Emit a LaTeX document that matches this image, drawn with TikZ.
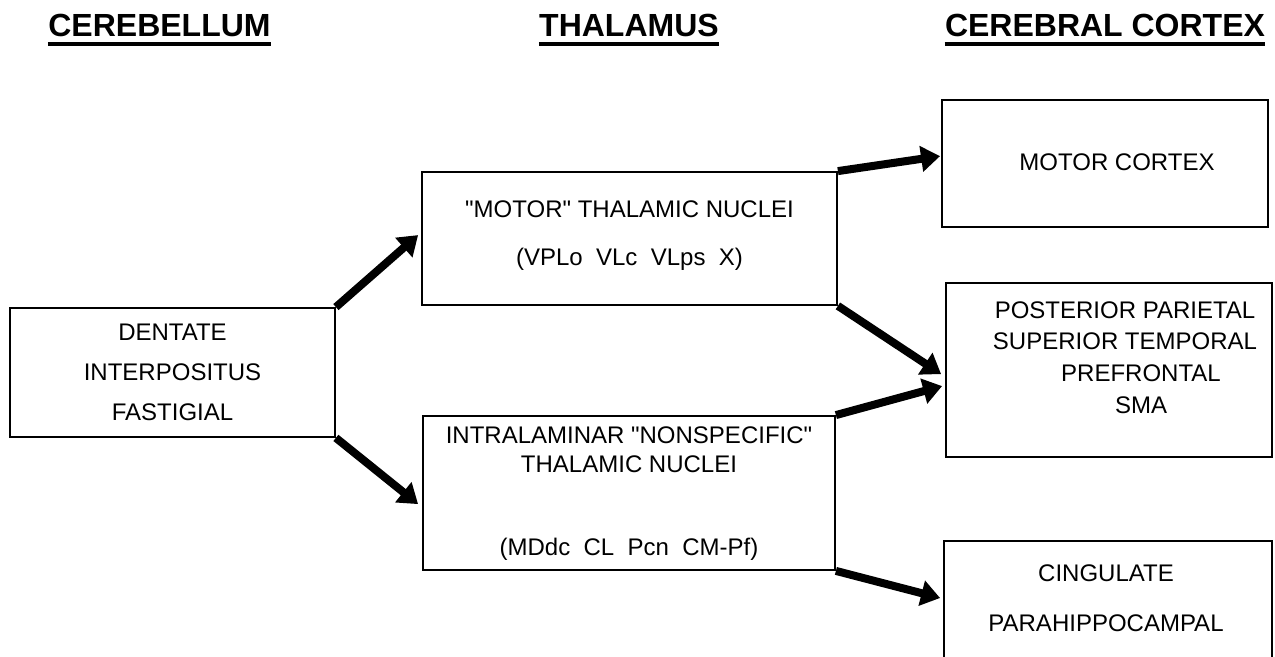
\documentclass[tikz,border=0pt]{standalone}
\usepackage{fontspec}
\setmainfont{Liberation Sans}
\usepackage{tikz}
\usetikzlibrary{arrows.meta,calc}
\tikzset{region/.style={
  % The shape:
  rectangle,
  % The border:
  draw=black, line width=0.9pt,
  % The frame holds no text:
  inner sep=0pt,
  }
}
\tikzset{nuclei/.style={
  % Text:
  align=center, inner sep=0pt,
  % Font, with the line distance as value:
  font=\fontsize{12}{#1}\selectfont,
  },
  nuclei/.default=14.5
}
\tikzset{heading/.style={
  font=\bfseries\fontsize{16}{19}\selectfont,
  inner sep=0pt, anchor=base,
  }
}
\newcommand{\qq}[1]{\textquotedbl#1\textquotedbl}

\begin{document}
\begin{tikzpicture}[x=0.5pt,y=-0.5pt,
    projection/.style={line width=4pt,-{Triangle[length=9.5pt,width=12.5pt]}},
    underline/.style={line width=1.6pt}]
  \useasboundingbox (0,0) rectangle (1275,657);
  \clip (0,0) rectangle (1275,657);

  % Headings:
  \node (hcb) [heading] at (159.5,37) {CEREBELLUM};
  \node (hth) [heading] at (629,37)   {THALAMUS};
  \node (hcc) [heading] at (1105,37)  {CEREBRAL CORTEX};
  \foreach \h in {hcb,hth,hcc}
    \draw[underline] ([yshift=-3.5pt]\h.base west) -- ([yshift=-3.5pt]\h.base east);

  % Frames:
  \node (cb) [region,minimum width=162.5pt,minimum height=64.5pt] at (172.5,372.5) {};
  \node (mt) [region,minimum width=207.5pt,minimum height=66.5pt] at (629.5,238.5) {};
  \node (it) [region,minimum width=206pt,minimum height=77pt]     at (629,493)     {};
  \node (mc) [region,minimum width=163pt,minimum height=63.5pt]   at (1105,163.5)  {};
  \node (pp) [region,minimum width=163pt,minimum height=87pt]     at (1109,370)    {};
  \node (cg) [region,minimum width=164pt,minimum height=120pt,anchor=north] at (1108,540) {};

  % Texts:
  \node (cbtext) [nuclei=20]   at (172.5,372.5) {DENTATE\\INTERPOSITUS\\FASTIGIAL};
  \node (mttext) [nuclei=24]   at (629.5,236)   {\qq{MOTOR} THALAMIC NUCLEI\\(VPLo\ \ VLc\ \ VLps\ \ X)};
  \node (ittext) [nuclei]      at (629,494)     {INTRALAMINAR \qq{NONSPECIFIC}\\THALAMIC NUCLEI\\[27pt](MDdc\ \ CL\ \ Pcn\ \ CM-Pf)};
  \node (mctext) [nuclei]      at (1117,162)    {MOTOR CORTEX};
  \node (pptext) [nuclei=15.8] at (1125,357.5)  {POSTERIOR PARIETAL\\SUPERIOR TEMPORAL\\\hspace*{16pt}PREFRONTAL\\\hspace*{16pt}SMA};
  \node (cgtext) [nuclei=25]   at (1106,598)    {CINGULATE\\PARAHIPPOCAMPAL};

  % Projections:
  \draw[projection] (cb.north east) -- ($(mt.north west)+(-3,64)$);
  \draw[projection] (cb.south east) -- ($(it.north west)+(-4,89)$);
  \draw[projection] (mt.north east) -- ($(mc.north west)+(-1,57)$);
  \draw[projection] (mt.south east) -- ($(pp.north west)+(-4,92)$);
  \draw[projection] (it.north east) -- ($(pp.north west)+(-3,104)$);
  \draw[projection] (it.south east) -- ($(cg.north west)+(-3,58)$);
\end{tikzpicture}
\end{document}
